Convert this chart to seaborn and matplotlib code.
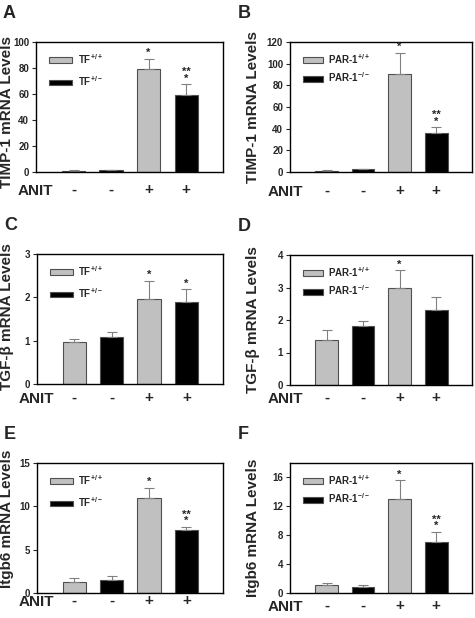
import pandas as pd
import seaborn as sns
import matplotlib.pyplot as plt

# shared categories
bar_ids = ["b1", "b2", "b3", "b4"]
anit_labels = ["-", "-", "+", "+"]
tf_groups = ["TF$^{+/+}$", "TF$^{+/-}$", "TF$^{+/+}$", "TF$^{+/-}$"]
par_groups = ["PAR-1$^{+/+}$", "PAR-1$^{-/-}$", "PAR-1$^{+/+}$", "PAR-1$^{-/-}$"]

# panel values (mean, upper error)
a_mean = [1.0, 1.2, 79.0, 59.6]
a_err = [0.3, 0.3, 8.3, 7.8]
a_stars = ["", "", "*", "**\n*"]

b_mean = [1.0, 2.5, 90.5, 36.0]
b_err = [0.4, 0.5, 19.5, 5.3]
b_stars = ["", "", "*", "**\n*"]

c_mean = [0.97, 1.08, 1.96, 1.90]
c_err = [0.08, 0.13, 0.42, 0.29]
c_stars = ["", "", "*", "*"]

d_mean = [1.38, 1.83, 2.99, 2.31]
d_err = [0.32, 0.15, 0.54, 0.41]
d_stars = ["", "", "*", ""]

e_mean = [1.29, 1.48, 10.99, 7.25]
e_err = [0.39, 0.47, 1.16, 0.39]
e_stars = ["", "", "*", "**\n*"]

f_mean = [1.08, 0.85, 13.05, 7.04]
f_err = [0.37, 0.23, 2.55, 1.46]
f_stars = ["", "", "*", "**\n*"]

sns.set_style("white")
plt.rcParams['font.family'] = ['Liberation Sans', 'DejaVu Sans']
plt.rcParams['font.weight'] = 'bold'
plt.rcParams['mathtext.fontset'] = 'custom'
plt.rcParams['mathtext.rm'] = 'Liberation Sans:bold'
plt.rcParams['mathtext.bf'] = 'Liberation Sans:bold'
plt.rcParams['mathtext.default'] = 'rm'

fig = plt.figure(figsize=(4.75, 6.18), dpi=100)
W, H = 475, 618

# name, groups, mean, err, stars, ylim, yticks, ylabel, left px, top px, width px,
# ANIT row offset px, y-label centre
panels = [
    ("A", tf_groups, a_mean, a_err, a_stars, 100, [0, 20, 40, 60, 80, 100], "TIMP-1 mRNA Levels", 36, 42, 187, 19, 0.46),
    ("B", par_groups, b_mean, b_err, b_stars, 120, [0, 20, 40, 60, 80, 100, 120], "TIMP-1 mRNA Levels", 290, 42, 182, 20, 0.5),
    ("C", tf_groups, c_mean, c_err, c_stars, 3, [0, 1, 2, 3], "TGF-β mRNA Levels", 37, 254, 186, 15, 0.52),
    ("D", par_groups, d_mean, d_err, d_stars, 4, [0, 1, 2, 3, 4], "TGF-β mRNA Levels", 290, 255, 182, 14, 0.5),
    ("E", tf_groups, e_mean, e_err, e_stars, 15, [0, 5, 10, 15], "Itgb6 mRNA Levels", 37, 463, 186, 9, 0.57),
    ("F", par_groups, f_mean, f_err, f_stars, 18, [0, 4, 8, 12, 16], "Itgb6 mRNA Levels", 290, 463, 182, 14, 0.5),
]

palette = {}
for g in tf_groups[:2] + par_groups[:2]:
    palette[g] = "#c0c0c0" if "+/+" in g else "black"

for name, groups, mean, err, stars, ytop, yticks, ylabel, left, top, width, off, ymid in panels:
    ax = fig.add_axes([left / W, 1 - (top + 130) / H, width / W, 130 / H])
    df = pd.DataFrame({"bar": bar_ids, "value": mean, "group": groups})
    sns.barplot(data=df, x="bar", y="value", hue="group", dodge=False,
                palette=palette, width=0.62, ax=ax, errorbar=None,
                edgecolor="#505050", linewidth=0.8)
    ax.errorbar(range(4), mean, yerr=[[0] * 4, err], fmt="none",
                ecolor="#808080", elinewidth=0.8, capsize=3.5, capthick=0.8, zorder=1)
    for i, s in enumerate(stars):
        if s:
            ax.annotate(s, (i, mean[i] + err[i]), xytext=(0, 0.5), textcoords="offset points",
                        ha="center", va="bottom", fontsize=8, linespacing=0.55)
    ax.set_xlim(-1.0, 3.98)
    ax.set_ylim(0, ytop)
    ax.set_yticks(yticks)
    ax.tick_params(axis="y", labelsize=7, length=3, width=0.8, direction="out", left=True, pad=2)
    ax.tick_params(axis="x", bottom=False, length=0, labelsize=11, pad=(off - 1) / 1.389)
    ax.set_xticks(range(4))
    ax.set_xticklabels(anit_labels)
    for lab in ax.get_xticklabels():
        lab.set_va("center")
    ax.set_xlabel("")
    ax.set_ylabel(ylabel, fontsize=11, fontweight="bold")
    tf_panel = name in ("A", "C", "E")
    ax.yaxis.set_label_coords((14 - left) / width if tf_panel else -0.165, ymid)
    for sp in ax.spines.values():
        sp.set_visible(True)
        sp.set_color("black")
        sp.set_linewidth(1.0)
    ax.text((-18 if tf_panel else -22) / width, -off / 130, "ANIT", transform=ax.transAxes,
            fontsize=11, fontweight="bold", ha="left", va="center")
    handles, labels = ax.get_legend_handles_labels()
    ax.legend(handles, labels, loc="upper left", bbox_to_anchor=(0.04, 0.97),
              frameon=False, fontsize=7, handlelength=2.3 if tf_panel else 2.0,
              handleheight=0.5, handletextpad=0.6,
              labelspacing=0.9 if tf_panel else 0.5, borderaxespad=0.2)
    fig.text((left - 33 if tf_panel else left - 52) / W, 1 - (top - 37) / H, name,
             fontsize=13, fontweight="bold", ha="left", va="top")

fig.savefig("out.png", dpi=100)
